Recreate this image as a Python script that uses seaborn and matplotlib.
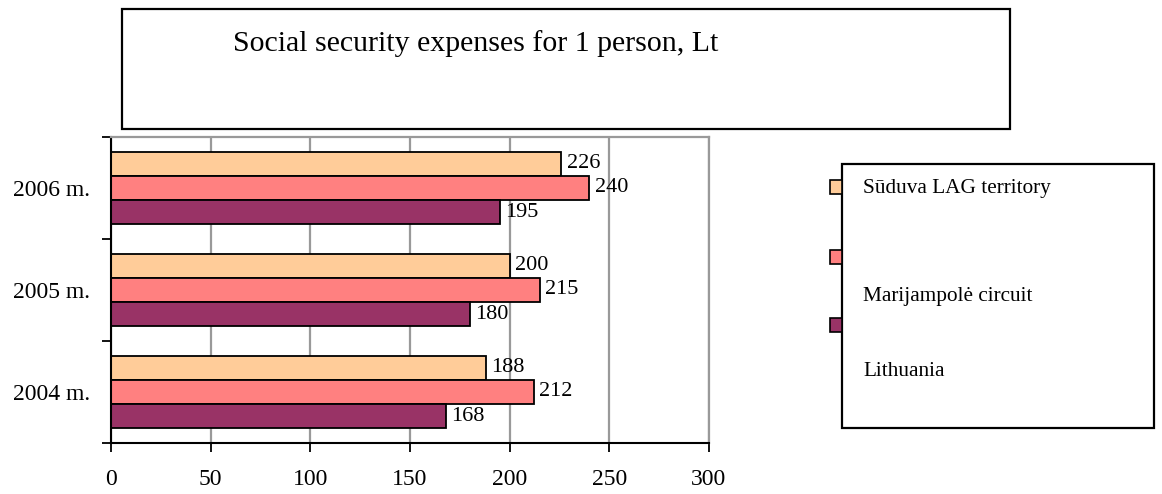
import matplotlib
matplotlib.use("Agg")
import matplotlib.pyplot as plt
from matplotlib.patches import Rectangle
import pandas as pd
import seaborn as sns

# Data
years = ["2006 m.", "2005 m.", "2004 m."]
series = ["Sūduva LAG territory", "Marijampolė circuit", "Lithuania"]
suduva = [226, 200, 188]
marijampole = [240, 215, 212]
lithuania = [195, 180, 168]
x_ticks = [0, 50, 100, 150, 200, 250, 300]
title = "Social security expenses for 1 person, Lt"

colors = ["#FFCC99", "#FF8080", "#993366"]

rows = []
for name, vals in zip(series, [suduva, marijampole, lithuania]):
    for yr, v in zip(years, vals):
        rows.append({"year": yr, "series": name, "value": v})
df = pd.DataFrame(rows)

sns.set_theme(style="white")
plt.rcParams["font.family"] = ["Liberation Serif", "DejaVu Serif"]
plt.rcParams["text.color"] = "black"
plt.rcParams["xtick.labelcolor"] = "black"
plt.rcParams["ytick.labelcolor"] = "black"

W, H = 1162, 494
fig = plt.figure(figsize=(W / 100, H / 100), dpi=100)


def fx(px):
    return px / W


def fy(py):
    return 1 - py / H


ax = fig.add_axes([fx(111), fy(443), fx(709) - fx(111), fy(137) - fy(443)])

sns.barplot(data=df, y="year", x="value", hue="series", order=years,
            hue_order=series, palette=colors, orient="h", width=0.71,
            edgecolor="black", linewidth=1.3, saturation=1, legend=False, ax=ax)

for cont in ax.containers:
    ax.bar_label(cont, padding=4, fontsize=16, color="black")

ax.set_xlim(0, 300)
ax.set_ylim(2.5, -0.5)
ax.set_xticks(x_ticks)
ax.set_xticklabels([str(t) for t in x_ticks])
ax.set_xlabel("")
ax.set_ylabel("")

ax.set_axisbelow(True)
ax.grid(axis="x", color="#999999", linewidth=1.6)
ax.grid(axis="y", visible=False)

# category labels centred, tick marks at category boundaries
ax.set_yticks([0, 1, 2])
ax.set_yticklabels(years)
ax.set_yticks([-0.5, 0.5, 1.5, 2.5], minor=True)
ax.tick_params(axis="y", which="major", length=0, pad=15, labelsize=17)
ax.tick_params(axis="y", which="minor", length=6.5, width=1.3, color="black",
               direction="out", left=True)
ax.tick_params(axis="x", which="major", length=6.5, width=1.3, color="black",
               direction="out", bottom=True, pad=12, labelsize=17)

for side in ["left", "bottom"]:
    ax.spines[side].set_color("black")
    ax.spines[side].set_linewidth(1.5)
for side in ["top", "right"]:
    ax.spines[side].set_color("#999999")
    ax.spines[side].set_linewidth(1.6)

# Title box
fig.add_artist(Rectangle((fx(122), fy(129)), fx(1010) - fx(122), fy(9) - fy(129),
                         transform=fig.transFigure, fill=False,
                         edgecolor="black", linewidth=1.6))
fig.text(fx(233), fy(51), title, fontsize=21.5, ha="left", va="baseline")

# Legend box
fig.add_artist(Rectangle((fx(842), fy(428)), fx(1154) - fx(842), fy(164) - fy(428),
                         transform=fig.transFigure, fill=False,
                         edgecolor="black", linewidth=1.6))
marker_y = [187, 257, 325]
text_y = [188, 297, 371]
for c, label, my, ty in zip(colors, series, marker_y, text_y):
    fig.add_artist(Rectangle((fx(830), fy(my + 7)), fx(842) - fx(830), fy(my - 7) - fy(my + 7),
                             transform=fig.transFigure, facecolor=c,
                             edgecolor="black", linewidth=1.2))
    fig.text(fx(863), fy(ty), label, fontsize=15.3, ha="left", va="center")

fig.savefig("out.png", dpi=100)
